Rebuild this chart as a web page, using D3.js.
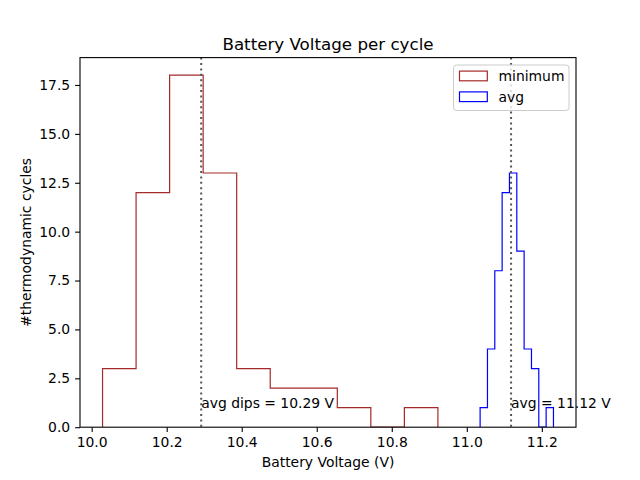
<!DOCTYPE html>
<html><head><meta charset="utf-8">
<script src="https://cdn.jsdelivr.net/npm/d3@7"></script>
<style>body{margin:0;background:#fff}svg{display:block}text{font-family:"DejaVu Sans",sans-serif}</style>
</head><body><svg id="c" width="640" height="480"></svg>
<script>
// Data
const minEdges = [10.029, 10.1184, 10.2078, 10.2972, 10.3866, 10.476, 10.5654, 10.6548, 10.7442, 10.8336, 10.923];
const minCounts = [3, 12, 18, 13, 3, 2, 2, 1, 0, 1];
const avgEdges = [11.0355, 11.0551, 11.0746, 11.0942, 11.1137, 11.1333, 11.1528, 11.1724, 11.1919, 11.2115, 11.231];
const avgCounts = [1, 4, 8, 12, 13, 9, 4, 3, 0, 1];
const xTicks = [10.0, 10.2, 10.4, 10.6, 10.8, 11.0, 11.2];
const yTicks = [0, 2.5, 5, 7.5, 10, 12.5, 15, 17.5];
const avgLines = [
  {v: 10.292, label: "avg dips = 10.29 V"},
  {v: 11.118, label: "avg = 11.12 V"}
];
const series = [
  {name: "minimum", edges: minEdges, counts: minCounts, color: "#a52a2a"},
  {name: "avg", edges: avgEdges, counts: avgCounts, color: "#0000ff"}
];

const L = 80, R = 576, T = 57.6, B = 427.2;
const svg = d3.select("#c");
const xmin = d3.min([minEdges[0], avgEdges[0]]), xmax = d3.max([minEdges[minEdges.length-1], avgEdges[avgEdges.length-1]]);
const pad = (xmax - xmin) * 0.05;
const x = d3.scaleLinear().domain([xmin - pad, xmax + pad]).range([L, R]);
const ymax = d3.max([...minCounts, ...avgCounts]) * 1.05;
const y = d3.scaleLinear().domain([0, ymax]).range([B, T]);

const g = svg.append("g");
svg.append("clipPath").attr("id", "clp").append("rect")
  .attr("x", L).attr("y", T).attr("width", R - L).attr("height", B - T);

// step histograms
series.forEach(s => {
  const pts = [[s.edges[0], 0]];
  s.counts.forEach((c, i) => { pts.push([s.edges[i], c]); pts.push([s.edges[i+1], c]); });
  pts.push([s.edges[s.edges.length-1], 0]);
  g.append("path")
    .attr("d", d3.line().x(d => x(d[0])).y(d => y(d[1]))(pts))
    .attr("fill", "none").attr("stroke", s.color).attr("stroke-width", 1.2)
    .attr("clip-path", "url(#clp)");
});

// avg lines
avgLines.forEach(a => {
  g.append("line").attr("x1", x(a.v)).attr("x2", x(a.v)).attr("y1", T).attr("y2", B)
    .attr("stroke", "#555").attr("stroke-width", 2).attr("stroke-dasharray", "2,3.4");
  g.append("text").attr("x", x(a.v)).attr("y", y(1)).attr("font-size", "13.9px")
    .attr("fill", "#000").text(a.label);
});

// axes
const xa = svg.append("g").attr("transform", `translate(0,${B})`)
  .call(d3.axisBottom(x).tickValues(xTicks).tickFormat(d3.format(".1f")).tickSizeOuter(0).tickSize(4.9).tickPadding(4.9));
const ya = svg.append("g").attr("transform", `translate(${L},0)`)
  .call(d3.axisLeft(y).tickValues(yTicks).tickFormat(d3.format(".1f")).tickSizeOuter(0).tickSize(4.9).tickPadding(4.9));
[xa, ya].forEach(a => {
  a.select(".domain").remove();
  a.selectAll("text").attr("font-size", "13.9px").attr("font-family", "DejaVu Sans").attr("fill", "#000");
  a.selectAll("line").attr("stroke", "#000").attr("stroke-width", 1.1);
});
svg.append("rect").attr("x", L).attr("y", T).attr("width", R - L).attr("height", B - T)
  .attr("fill", "none").attr("stroke", "#000").attr("stroke-width", 1.1);

// labels
svg.append("text").attr("x", (L + R) / 2).attr("y", 49.5).attr("text-anchor", "middle")
  .attr("font-size", "16.7px").text("Battery Voltage per cycle");
svg.append("text").attr("x", (L + R) / 2).attr("y", 467).attr("text-anchor", "middle")
  .attr("font-size", "13.9px").text("Battery Voltage (V)");
svg.append("text").attr("transform", `translate(31,${(T + B) / 2}) rotate(-90)`).attr("text-anchor", "middle")
  .attr("font-size", "13.9px").text("#thermodynamic cycles");

// legend
const lg = svg.append("g");
lg.append("rect").attr("x", 453.5).attr("y", 65).attr("width", 115.5).attr("height", 45.5).attr("rx", 3)
  .attr("fill", "#fff").attr("fill-opacity", 0.8).attr("stroke", "#ccc").attr("stroke-width", 1);
series.forEach((s, i) => {
  const cy = 76 + i * 20.8;
  lg.append("rect").attr("x", 459.5).attr("y", cy - 4.9).attr("width", 27.8).attr("height", 9.7)
    .attr("fill", "none").attr("stroke", s.color).attr("stroke-width", 1.2);
  lg.append("text").attr("x", 498.5).attr("y", cy + 5).attr("font-size", "13.9px").text(s.name);
});
</script></body></html>
